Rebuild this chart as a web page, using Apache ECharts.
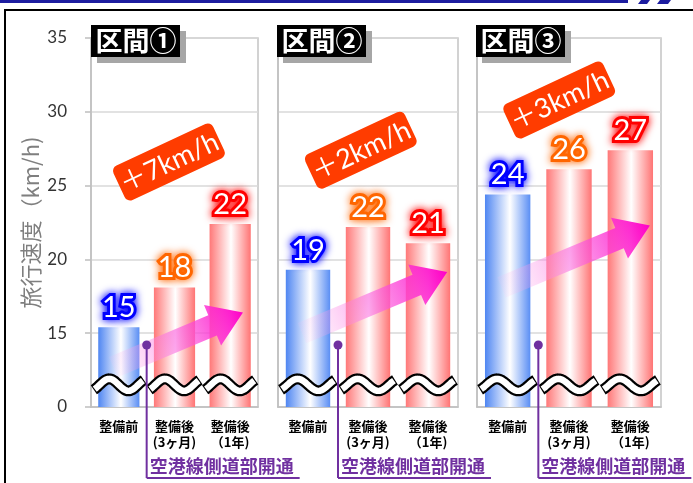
<!DOCTYPE html>
<html><head><meta charset="utf-8">
<script src="https://cdn.jsdelivr.net/npm/echarts@6/dist/echarts.min.js"></script>
<style>html,body{margin:0;padding:0;background:#fff}#c{width:693px;height:483px}</style>
</head><body><div id="c"></div>
<script>
// ---- data ----
const categories = ['整備前', '整備後\n(3ヶ月)', '整備後\n（1年)'];
const sectionNames = ['区間①', '区間②', '区間③'];
const speedSection1 = [15.4, 18.1, 22.4];
const speedSection2 = [19.3, 22.2, 21.1];
const speedSection3 = [24.4, 26.1, 27.4];
const gainLabels = ['＋7km/h', '＋2km/h', '＋3km/h'];
const yTickLabels = {10: '0', 15: '15', 20: '20', 25: '25', 30: '30', 35: '35'};
const yAxisTitle = '旅行速度（km/h)';
const openingLabel = '空港線側道部開通';
// annotation anchors in data units: [category position, value]
const breakMarkValue = 11.5;
const openingMarkerAt = [0.5, 14.2];
const trendArrowTail = [[-0.1, 12.7], [-0.1, 15.0], [-0.1, 18.1]];
const trendArrowTip = [[2.23, 16.4], [2.32, 19.15], [2.32, 22.3]];
const gainBoxAt = [[0.9, 26.6], [0.88, 27.4], [0.84, 30.8]];

const speeds = [speedSection1, speedSection2, speedSection3];
const labelColors = ['#0000ff', '#ff6600', '#ff0000'];

const gridBoxes = [
  {left: 91, width: 167},
  {left: 278, width: 180},
  {left: 477, width: 184}
];

function coordAt(api, c, v) {
  const p0 = api.coord([0, v]);
  const p1 = api.coord([1, v]);
  return [p0[0] + (p1[0] - p0[0]) * c, p0[1]];
}

function barColor(i) {
  if (i === 0) {
    return new echarts.graphic.LinearGradient(0, 0, 1, 0, [
      {offset: 0, color: '#4f86f2'}, {offset: 0.55, color: '#ffffff'}, {offset: 1, color: '#5a8ef4'}]);
  }
  return new echarts.graphic.LinearGradient(0, 0, 1, 0, [
    {offset: 0, color: '#ff7878'}, {offset: 0.52, color: '#ffffff'}, {offset: 1, color: '#ff7474'}]);
}

function waveRender(params, api) {
  const p = api.coord([api.value(0), api.value(1)]);
  const w = api.size([1, 0])[0] * 0.9;
  const amp = 6;
  function pts(t0, t1) {
    const out = [];
    const N = 30;
    for (let k = 0; k <= N; k++) {
      const t = t0 + (t1 - t0) * k / N;
      out.push([p[0] - w / 2 + w * (t + 0.15) / 1.3, p[1] - amp * Math.sin(2 * Math.PI * t)]);
    }
    return out;
  }
  return {type: 'group', children: [
    {type: 'polyline', shape: {points: pts(-0.15, 1.15)}, style: {stroke: '#000', lineWidth: 11, fill: null, lineCap: 'butt', lineJoin: 'round'}},
    {type: 'polyline', shape: {points: pts(-0.125, 1.125)}, style: {stroke: '#fff', lineWidth: 6.5, fill: null, lineCap: 'butt', lineJoin: 'round'}}
  ]};
}

function arrowRender(panel) {
  return function (params, api) {
    const t = coordAt(api, trendArrowTail[panel][0], trendArrowTail[panel][1]);
    const h = coordAt(api, trendArrowTip[panel][0], trendArrowTip[panel][1]);
    const dx = h[0] - t[0], dy = h[1] - t[1];
    const L = Math.hypot(dx, dy);
    const ux = dx / L, uy = dy / L, nx = -uy, ny = ux;
    const sw = 11, hw = 22, hl = 33;
    const bx = h[0] - ux * hl, by = h[1] - uy * hl;
    const points = [
      [t[0] + nx * sw, t[1] + ny * sw], [bx + nx * sw, by + ny * sw], [bx + nx * hw, by + ny * hw],
      [h[0], h[1]],
      [bx - nx * hw, by - ny * hw], [bx - nx * sw, by - ny * sw], [t[0] - nx * sw, t[1] - ny * sw]
    ];
    return {type: 'polygon', shape: {points: points}, style: {
      fill: new echarts.graphic.LinearGradient(t[0], t[1], h[0], h[1], [
        {offset: 0, color: 'rgba(255,190,240,0.1)'},
        {offset: 0.45, color: 'rgba(250,110,225,0.6)'},
        {offset: 1, color: 'rgba(255,0,200,1)'}], true)
    }};
  };
}

function gainRender(panel) {
  return function (params, api) {
    const p = coordAt(api, gainBoxAt[panel][0], gainBoxAt[panel][1]);
    return {type: 'group', x: p[0], y: p[1], rotation: 25 * Math.PI / 180, children: [
      {type: 'rect', shape: {x: -55, y: -19, width: 110, height: 38, r: 6}, style: {fill: '#ff3c00'}},
      {type: 'text', style: {text: gainLabels[panel], x: 0, y: 1, align: 'center', verticalAlign: 'middle',
        fill: '#fff', fontSize: 27, fontFamily: 'Lato, "Noto Sans CJK JP"'}}
    ]};
  };
}

function openingRender(params, api) {
  const p = coordAt(api, openingMarkerAt[0], openingMarkerAt[1]);
  const base = api.coord([0, 10])[1];
  const bottomY = base + 71;
  const c = '#7030a0';
  return {type: 'group', children: [
    {type: 'line', shape: {x1: p[0], y1: p[1], x2: p[0], y2: bottomY}, style: {stroke: c, lineWidth: 2}},
    {type: 'line', shape: {x1: p[0], y1: bottomY, x2: p[0] + 153, y2: bottomY}, style: {stroke: c, lineWidth: 2}},
    {type: 'circle', shape: {cx: p[0], cy: p[1], r: 4.5}, style: {fill: c}},
    {type: 'text', style: {text: openingLabel, x: p[0] + 3, y: bottomY - 3, align: 'left', verticalAlign: 'bottom',
      fill: c, fontSize: 18, fontWeight: 'bold', fontFamily: '"Noto Sans CJK JP"'}}
  ]};
}

const grids = [], xAxes = [], yAxes = [], series = [];
for (let i = 0; i < 3; i++) {
  grids.push({left: gridBoxes[i].left, width: gridBoxes[i].width, top: 38, height: 369,
    show: true, borderColor: '#c4c4c4', borderWidth: 1.5, backgroundColor: 'transparent'});
  xAxes.push({type: 'category', gridIndex: i, data: categories,
    axisLine: {lineStyle: {color: '#bfbfbf', width: 1.5}}, axisTick: {show: false},
    axisLabel: {interval: 0, margin: 11, fontSize: 13, fontWeight: 'bold', lineHeight: 16, color: '#000',
      fontFamily: '"Noto Sans CJK JP"'}});
  yAxes.push({type: 'value', gridIndex: i, min: 10, max: 35, interval: 5,
    axisLine: {show: true, lineStyle: {color: '#bfbfbf', width: 1.5}},
    axisTick: {show: i === 0, length: 6, lineStyle: {color: '#bfbfbf', width: 1.5}},
    axisLabel: {show: i === 0, margin: 24, fontSize: 17, color: '#333', fontFamily: 'Lato',
      formatter: function (v) { return yTickLabels[v] !== undefined ? yTickLabels[v] : ''; }},
    splitLine: {lineStyle: {color: '#d9d9d9', width: 1.5}},
    name: i === 0 ? yAxisTitle : '', nameLocation: 'middle', nameGap: 49, nameRotate: 90,
    nameTextStyle: {fontSize: 22, color: '#7f7f7f', fontFamily: '"Noto Sans CJK JP"'}});

  series.push({type: 'bar', xAxisIndex: i, yAxisIndex: i, barCategoryGap: '26%', z: 2,
    data: speeds[i].map(function (v, k) {
      return {value: v, itemStyle: {color: barColor(k)},
        label: {show: true, position: 'top', distance: 5, color: '#fff', fontSize: 29, fontFamily: 'Lato',
          textBorderColor: labelColors[k], textBorderWidth: 6, textShadowColor: labelColors[k], textShadowBlur: 9,
          formatter: function (p) { return String(Math.round(p.value)); }}};
    })});
  series.push({type: 'custom', xAxisIndex: i, yAxisIndex: i, z: 3, clip: false, silent: true,
    renderItem: arrowRender(i), data: [[0, trendArrowTail[i][1]]]});
  series.push({type: 'custom', xAxisIndex: i, yAxisIndex: i, z: 4, clip: false, silent: true,
    renderItem: waveRender, data: [[0, breakMarkValue], [1, breakMarkValue], [2, breakMarkValue]]});
  series.push({type: 'custom', xAxisIndex: i, yAxisIndex: i, z: 5, clip: false, silent: true,
    renderItem: gainRender(i), data: [[1, gainBoxAt[i][1]]]});
  series.push({type: 'custom', xAxisIndex: i, yAxisIndex: i, z: 6, clip: false, silent: true,
    renderItem: openingRender, data: [[1, openingMarkerAt[1]]]});
}

const headerLeft = [91, 277, 476];
const graphics = [
  {type: 'rect', shape: {x: 0, y: 0, width: 628, height: 3}, style: {fill: '#1c1ca0'}},
  {type: 'polygon', shape: {points: [[641, 0], [650, 0], [647, 4], [638, 4]]}, style: {fill: '#1c1ca0'}},
  {type: 'polygon', shape: {points: [[660, 0], [671, 0], [668, 4], [657, 4]]}, style: {fill: '#1c1ca0'}},
  {type: 'line', shape: {x1: 4, y1: 10, x2: 693, y2: 10}, style: {stroke: '#000', lineWidth: 2}},
  {type: 'line', shape: {x1: 5, y1: 10, x2: 5, y2: 483}, style: {stroke: '#000', lineWidth: 2}}
];
for (let i = 0; i < 3; i++) {
  const x = headerLeft[i];
  graphics.push({type: 'rect', z: 100, shape: {x: x + 6, y: 31, width: 89, height: 32}, style: {fill: '#a6a6a6'}});
  graphics.push({type: 'rect', z: 101, shape: {x: x, y: 25, width: 89, height: 32}, style: {fill: '#000'}});
  graphics.push({type: 'text', z: 102, style: {text: sectionNames[i], x: x + 45, y: 41, align: 'center', verticalAlign: 'middle',
    fill: '#fff', fontSize: 27, fontWeight: 'bold', fontFamily: '"Noto Sans CJK JP"'}});
}

const chart = echarts.init(document.getElementById('c'), null, {renderer: 'canvas'});
chart.setOption({
  animation: false,
  backgroundColor: '#fff',
  grid: grids, xAxis: xAxes, yAxis: yAxes, series: series,
  graphic: graphics
});
</script>
</body></html>
